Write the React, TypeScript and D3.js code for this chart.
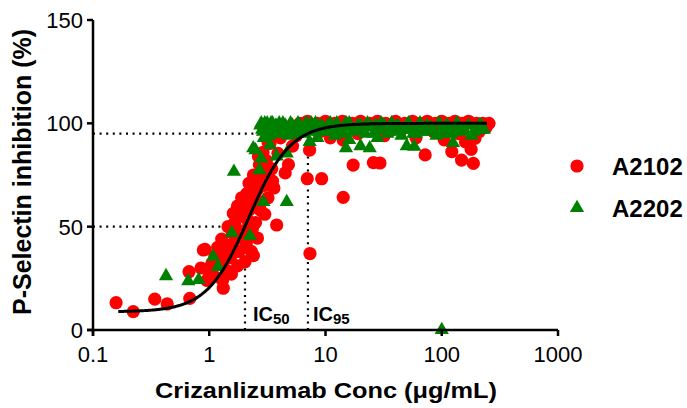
import React from "react";
import * as d3 from "d3";

// ---- data ----
const xTicks = [0.1, 1, 10, 100, 1000];
const xTickLabels = ["0.1", "1", "10", "100", "1000"];
const yTicks = [0, 50, 100, 150];
const seriesNames = ["A2102", "A2202"];

// A2102: [concentration (µg/mL), % inhibition]
const a2102: [number, number][] = [
  [0.158, 13.2], [0.222, 8.9], [0.34, 14.9], [0.435, 12.6], [0.68, 15.3], [0.67, 28.2],
  [0.89, 38.7], [0.92, 39], [0.85, 30], [0.95, 24], [1.0, 28], [1.05, 32], [1.1, 26],
  [1.12, 36], [1.18, 40], [1.22, 33], [1.32, 20.2], [1.28, 44], [1.35, 38], [1.4, 29],
  [1.45, 50], [1.5, 41], [1.52, 35], [1.58, 47], [1.61, 56.4], [1.66, 52], [1.7, 44],
  [1.75, 60], [1.8, 38], [1.85, 55], [1.9, 64], [1.95, 48], [2.0, 58], [2.03, 33],
  [2.08, 42], [2.1, 66], [2.15, 53], [2.2, 71], [2.25, 61], [2.35, 49], [2.4, 75],
  [2.45, 66], [2.55, 72.6], [2.6, 44.5], [2.6, 68], [2.7, 80], [2.75, 58], [2.85, 76],
  [2.9, 86], [3.0, 70], [3.1, 82], [3.2, 91], [3.33, 90.3], [3.45, 78], [3.6, 68.7],
  [3.8, 50.8], [3.9, 85.5], [4.1, 93], [4.5, 76], [4.8, 80], [5.2, 89], [5.6, 94],
  [2.3, 38], [2.5, 52], [2.8, 62], [3.0, 56], [3.2, 64], [3.5, 72], [2.65, 84],
  [3.05, 78], [2.2, 58], [1.9, 45], [1.75, 31], [2.4, 36], [1.3, 24], [1.55, 27],
  [6.97, 73.2], [9.27, 73.2], [7.35, 37], [7.3, 87], [14.2, 64.2], [14.2, 91.9],
  [17.3, 79.8], [25.8, 81], [29.4, 80.8], [72, 84.7], [122, 86.3], [148, 82.2],
  [187, 80.6], [179, 87.4], [193, 92.7],
  [6, 100], [7, 101], [8.5, 100], [10, 101], [12, 100], [14, 101], [17, 100], [20, 101],
  [24, 100], [28, 101], [33, 100], [40, 101], [48, 100], [56, 101], [65, 100], [75, 101],
  [88, 100], [100, 101], [115, 100], [130, 101], [150, 100], [170, 101], [200, 100],
  [225, 100], [255, 100],
  [9, 96], [11, 93], [19, 95], [32, 94], [45, 97], [60, 93], [85, 96], [105, 92],
  [140, 95], [160, 91], [210, 96], [240, 98],
];

// A2202: [concentration (µg/mL), % inhibition]
const a2202: [number, number][] = [
  [0.425, 26.1], [0.66, 23.7], [0.81, 24.2], [1.08, 35.5], [1.19, 30.6], [1.56, 47],
  [2.24, 45.5], [2.92, 62], [4.64, 62], [1.63, 76.6], [2.39, 88], [2.5, 87], [2.7, 77.4],
  [2.8, 83], [3.33, 89.5], [3.8, 84], [4.64, 85.5], [7.3, 91], [100, 0],
  [2.75, 99], [2.9, 96], [3.0, 100], [3.2, 97], [3.4, 100], [3.6, 98], [3.8, 95],
  [4.0, 100], [4.2, 97], [4.5, 99], [4.8, 94], [5.0, 100], [5.5, 97], [6.0, 99],
  [6.5, 95], [7.0, 98], [7.5, 100], [8, 97], [8.5, 93], [9, 99], [10, 96], [11, 100],
  [12, 94], [13, 98], [14, 96], [15, 100], [16, 92], [18, 97], [20, 99], [22, 95],
  [25, 98], [28, 93], [30, 100], [35, 96], [40, 98], [45, 94], [50, 99], [55, 97],
  [60, 95], [65, 100], [70, 96], [80, 98], [90, 94], [100, 97], [110, 99], [120, 95],
  [140, 98], [160, 96], [180, 94], [200, 97], [220, 99],
  [15, 88], [20, 89], [24, 88], [50, 89], [58, 88.7], [125, 90.5],
  [2.8, 100], [2.85, 97], [2.95, 93], [3.05, 98], [3.15, 100], [3.25, 94], [3.35, 97],
  [3.5, 100], [3.65, 96], [3.75, 99], [3.9, 97], [4.05, 95], [4.3, 100], [4.4, 96],
  [4.6, 98], [4.9, 97], [5.2, 99], [5.4, 95], [5.8, 100], [6.2, 97], [6.8, 100],
  [7.2, 96], [7.8, 98], [8.2, 100], [8.8, 96], [9.5, 98], [10.5, 99], [11.5, 96],
  [12.5, 100], [13.5, 95], [14.5, 98], [16, 100], [17, 96], [19, 99], [21, 97],
  [23, 100], [26, 95], [27, 99], [29, 97], [32, 99], [34, 95], [37, 100], [39, 96],
  [42, 99], [47, 97], [52, 100], [57, 95], [62, 98], [67, 96], [75, 99], [85, 96],
  [95, 100], [105, 95], [115, 98], [130, 96], [135, 100], [150, 97], [170, 99],
  [190, 96], [210, 99], [230, 97],
];

// fitted 4-parameter logistic model
const fitBottom = 8.8;
const fitTop = 100;
const fitEC50 = 2.19;
const fitHill = 2.44;
const fitRange = [0.165, 245];
const ic50 = 2.03;
const ic95 = 7.06;

const FONT = "'Liberation Sans', Arial, Helvetica, sans-serif";

export default function App() {
  const W = 687;
  const H = 408;
  const x = d3.scaleLog().domain([0.1, 1000]).range([93, 558]);
  const y = d3.scaleLinear().domain([0, 150]).range([330, 20]);

  const model = (c: number) =>
    fitBottom + (fitTop - fitBottom) / (1 + Math.pow(fitEC50 / c, fitHill));
  const lx0 = Math.log10(fitRange[0]);
  const lx1 = Math.log10(fitRange[1]);
  const curve = d3.range(0, 301).map((i) => {
    const c = Math.pow(10, lx0 + ((lx1 - lx0) * i) / 300);
    return [c, model(c)] as [number, number];
  });
  const line = d3
    .line<[number, number]>()
    .x((d) => x(d[0]))
    .y((d) => y(d[1]));

  const tri = d3.symbol().type(d3.symbolTriangle).size(88)()!;
  const red = "#ff0000";
  const green = "#008000";
  const dot = { stroke: "#000", strokeWidth: 2.2, strokeDasharray: "2,4.6", fill: "none" };

  return (
    <div style={{ position: "absolute", left: 0, top: 0 }}>
      <svg width={W} height={H} style={{ display: "block", background: "#fff" }} fontFamily={FONT}>
        {/* reference dotted lines */}
        <line x1={x(0.1)} x2={x(ic50)} y1={y(50)} y2={y(50)} {...dot} />
        <line x1={x(0.1)} x2={x(ic95)} y1={y(95)} y2={y(95)} {...dot} />
        <line x1={x(ic50)} x2={x(ic50)} y1={y(0)} y2={y(50)} {...dot} />
        <line x1={x(ic95)} x2={x(ic95)} y1={y(0)} y2={y(95)} {...dot} />

        {/* data */}
        {a2102.map((d, i) => (
          <circle key={"r" + i} cx={x(d[0])} cy={y(d[1])} r={6.6} fill={red} />
        ))}
        {a2202.map((d, i) => (
          <path key={"g" + i} d={tri} transform={`translate(${x(d[0])},${y(d[1])})`} fill={green} />
        ))}

        {/* fit curve */}
        <path d={line(curve)!} fill="none" stroke="#000" strokeWidth={3} />

        {/* IC labels */}
        <text x={x(ic50) + 8} y={321} fontSize={20} fontWeight="bold" fill="#000">
          IC<tspan fontSize={15} dy={3}>50</tspan>
        </text>
        <text x={x(ic95) + 5} y={321} fontSize={20} fontWeight="bold" fill="#000">
          IC<tspan fontSize={15} dy={3}>95</tspan>
        </text>

        {/* axes */}
        <line x1={x(0.1)} x2={x(0.1)} y1={y(0) + 6} y2={y(150)} stroke="#000" strokeWidth={2.5} />
        <line x1={x(0.1) - 6} x2={x(1000)} y1={y(0)} y2={y(0)} stroke="#000" strokeWidth={2.5} />
        {yTicks.map((t) => (
          <g key={"yt" + t}>
            <line x1={x(0.1) - 6} x2={x(0.1)} y1={y(t)} y2={y(t)} stroke="#000" strokeWidth={2.5} />
            <text x={x(0.1) - 10} y={y(t)} dy="0.36em" textAnchor="end" fontSize={22} fill="#000">
              {t}
            </text>
          </g>
        ))}
        {xTicks.map((t, i) => (
          <g key={"xt" + t}>
            <line x1={x(t)} x2={x(t)} y1={y(0)} y2={y(0) + 6} stroke="#000" strokeWidth={2.5} />
            <text x={x(t)} y={362} textAnchor="middle" fontSize={22} fill="#000">
              {xTickLabels[i]}
            </text>
          </g>
        ))}

        {/* axis titles */}
        <text
          transform={`translate(31,172) rotate(-90)`}
          textAnchor="middle"
          fontSize={25}
          fontWeight="bold"
          fill="#000"
        >
          P-Selectin inhibition (%)
        </text>
        <text
          x={326}
          y={398}
          textAnchor="middle"
          fontSize={22}
          fontWeight="bold"
          fill="#000"
          textLength={342}
          lengthAdjust="spacingAndGlyphs"
        >
          Crizanlizumab Conc (μg/mL)
        </text>

        {/* legend */}
        <circle cx={577} cy={166} r={6.6} fill={red} />
        <text x={612} y={166} dy="0.36em" fontSize={24} fontWeight="bold" fill="#000">
          {seriesNames[0]}
        </text>
        <path d={tri} transform="translate(577,208)" fill={green} />
        <text x={612} y={208} dy="0.36em" fontSize={24} fontWeight="bold" fill="#000">
          {seriesNames[1]}
        </text>
      </svg>
    </div>
  );
}
